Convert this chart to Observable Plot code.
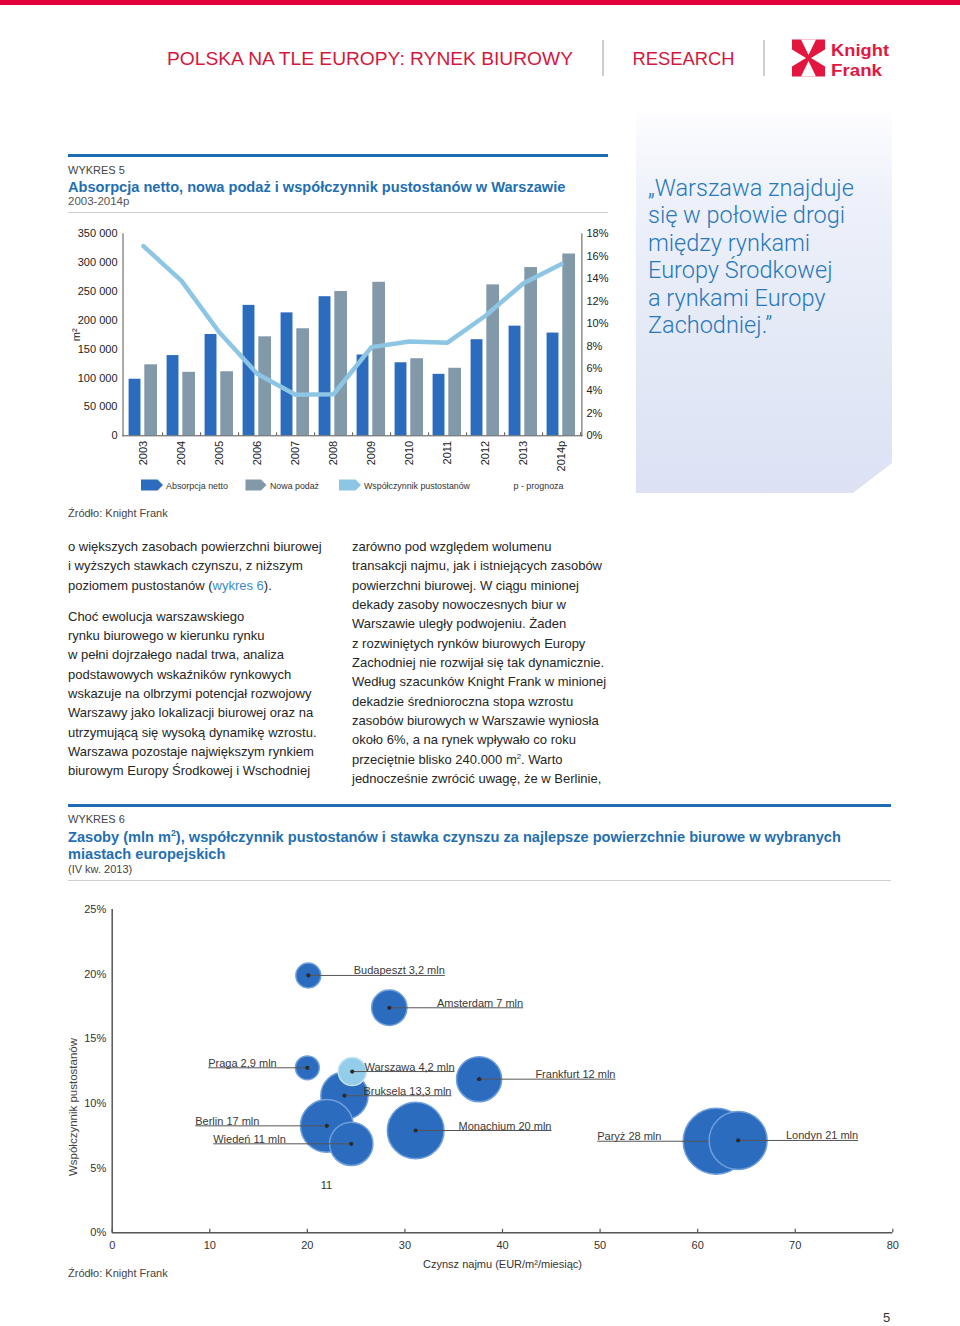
<!DOCTYPE html>
<html lang="pl">
<head>
<meta charset="utf-8">
<script src="https://cdn.jsdelivr.net/npm/d3@7"></script>
<script src="https://cdn.jsdelivr.net/npm/@observablehq/plot@0.6"></script>
<style>
html,body{margin:0;padding:0;background:#fff;}
#page{position:relative;width:960px;height:1326px;overflow:hidden;font-family:"Liberation Sans",Arial,Helvetica,sans-serif;color:#333;}
.abs{position:absolute;}
.t{position:absolute;white-space:nowrap;line-height:1.15;transform:translateY(-50%);}
.col{position:absolute;font-size:13px;line-height:19.35px;color:#262626;white-space:nowrap;}
.col p{margin:0;}
sup{font-size:0.6em;vertical-align:0.6em;line-height:0;}
.bluebar{position:absolute;height:3px;background:#1f6cb0;}
.hr{position:absolute;height:1px;background:#cfcfcf;}
.quote{position:absolute;left:636px;top:113px;width:256px;height:380px;
  background:linear-gradient(180deg,#fdfdff 0%,#eef1fa 22%,#e5eaf7 55%,#dce2f4 100%);
  clip-path:polygon(0 0,100% 0,100% 350px,217px 100%,0 100%);}
.qtext{position:absolute;left:648px;top:174.5px;font-family:Roboto,"Liberation Sans",sans-serif;font-weight:300;font-size:23.5px;line-height:27.5px;color:#2878bb;white-space:nowrap;}
.title{font-weight:bold;color:#1f6fb2;font-size:14.6px;}
.lbl{font-size:11px;color:#444;}
.chart{position:absolute;left:0;}
.chart svg{overflow:visible;}
</style>
</head>
<body>
<div id="page">
  <svg class="abs" style="left:0;top:0" width="960" height="100">
    <rect x="0" y="0" width="960" height="5" fill="#e2003b"/>
    <text x="167" y="64.5" font-size="17.5" fill="#d3173e" textLength="406" lengthAdjust="spacingAndGlyphs" font-family="Liberation Sans, Arial, sans-serif">POLSKA NA TLE EUROPY: RYNEK BIUROWY</text>
    <line x1="603" x2="603" y1="40" y2="76" stroke="#bdbdbd" stroke-width="1.5"/>
    <text x="632.5" y="64.5" font-size="17.5" fill="#d3173e" textLength="102" lengthAdjust="spacingAndGlyphs" font-family="Liberation Sans, Arial, sans-serif">RESEARCH</text>
    <line x1="764" x2="764" y1="40" y2="76" stroke="#bdbdbd" stroke-width="1.5"/>
    <g transform="translate(792,39.5)">
      <rect x="0" y="0" width="33" height="37" fill="#e2163f"/>
      <polygon points="9,0 24,0 16.5,15.5" fill="#fff"/>
      <polygon points="9,37 24,37 16.5,21.5" fill="#fff"/>
      <polygon points="0,10 0,27 14,18.5" fill="#fff"/>
      <polygon points="33,10 33,27 19,18.5" fill="#fff"/>
    </g>
    <text x="831" y="56" font-size="16.8" font-weight="bold" fill="#e2163f" textLength="58" lengthAdjust="spacingAndGlyphs" font-family="Liberation Sans, Arial, sans-serif">Knight</text>
    <text x="831" y="75.8" font-size="16.8" font-weight="bold" fill="#e2163f" textLength="51" lengthAdjust="spacingAndGlyphs" font-family="Liberation Sans, Arial, sans-serif">Frank</text>
  </svg>

  <div class="quote"></div>
  <div class="qtext">„Warszawa znajduje<br>się w połowie drogi<br>między rynkami<br>Europy Środkowej<br>a rynkami Europy<br>Zachodniej.”</div>

  <div class="bluebar" style="left:68px;top:154px;width:540px;"></div>
  <div class="t lbl" style="left:68px;top:170px;">WYKRES 5</div>
  <div class="t title" style="left:68px;top:186.5px;">Absorpcja netto, nowa podaż i współczynnik pustostanów w Warszawie</div>
  <div class="t" style="left:68px;top:202.3px;font-size:11.5px;color:#555;">2003-2014p</div>
  <div class="hr" style="left:68px;top:212px;width:540px;"></div>

  <div id="chart1" class="chart" style="top:215px;"></div>

  <svg class="abs" style="left:0;top:474px" width="620" height="24" font-family="Liberation Sans, Arial, sans-serif" font-size="9.5" fill="#333">
    <polygon points="141,5.5 157.5,5.5 163,11 157.5,16.5 141,16.5" fill="#2c6cbf"/>
    <text x="166" y="14.5" textLength="62" lengthAdjust="spacingAndGlyphs">Absorpcja netto</text>
    <polygon points="245.5,5.5 261,5.5 266.5,11 261,16.5 245.5,16.5" fill="#8299aa"/>
    <text x="270" y="14.5" textLength="49" lengthAdjust="spacingAndGlyphs">Nowa podaż</text>
    <polygon points="339,5.5 355.5,5.5 361,11 355.5,16.5 339,16.5" fill="#8dc6e4"/>
    <text x="364" y="14.5" textLength="106" lengthAdjust="spacingAndGlyphs">Współczynnik pustostanów</text>
    <text x="513.5" y="14.5" textLength="50" lengthAdjust="spacingAndGlyphs">p - prognoza</text>
  </svg>

  <div class="t lbl" style="left:68px;top:513px;">Źródło: Knight Frank</div>

  <div class="col" style="left:68px;top:537px;">
    <p>o większych zasobach powierzchni biurowej<br>i wyższych stawkach czynszu, z niższym<br>poziomem pustostanów (<span style="color:#3a8cc8">wykres 6</span>).</p>
    <p style="margin-top:11.6px">Choć ewolucja warszawskiego<br>rynku biurowego w kierunku rynku<br>w pełni dojrzałego nadal trwa, analiza<br>podstawowych wskaźników rynkowych<br>wskazuje na olbrzymi potencjał rozwojowy<br>Warszawy jako lokalizacji biurowej oraz na<br>utrzymującą się wysoką dynamikę wzrostu.<br>Warszawa pozostaje największym rynkiem<br>biurowym Europy Środkowej i Wschodniej</p>
  </div>
  <div class="col" style="left:352px;top:537px;">
    <p>zarówno pod względem wolumenu<br>transakcji najmu, jak i istniejących zasobów<br>powierzchni biurowej. W ciągu minionej<br>dekady zasoby nowoczesnych biur w<br>Warszawie uległy podwojeniu. Żaden<br>z rozwiniętych rynków biurowych Europy<br>Zachodniej nie rozwijał się tak dynamicznie.<br>Według szacunków Knight Frank w minionej<br>dekadzie średnioroczna stopa wzrostu<br>zasobów biurowych w Warszawie wyniosła<br>około 6%, a na rynek wpływało co roku<br>przeciętnie blisko 240.000 m<sup>2</sup>. Warto<br>jednocześnie zwrócić uwagę, że w Berlinie,</p>
  </div>

  <div class="bluebar" style="left:68px;top:804px;width:823px;"></div>
  <div class="t lbl" style="left:68px;top:819px;">WYKRES 6</div>
  <div class="t title" style="left:68px;top:836.7px;">Zasoby (mln m<sup>2</sup>), współczynnik pustostanów i stawka czynszu za najlepsze powierzchnie biurowe w wybranych</div>
  <div class="t title" style="left:68px;top:854.3px;">miastach europejskich</div>
  <div class="t lbl" style="left:68px;top:868.5px;">(IV kw. 2013)</div>
  <div class="hr" style="left:68px;top:880px;width:823px;"></div>

  <div id="chart2" class="chart" style="top:895px;"></div>
  <div class="abs lbl" style="left:72.5px;top:1107.3px;transform:translate(-50%,-50%) rotate(-90deg);white-space:nowrap;font-size:11.5px;">Współczynnik pustostanów</div>

  <div class="t lbl" style="left:68px;top:1273px;">Źródło: Knight Frank</div>
  <div class="t" style="left:883px;top:1318px;font-size:13px;color:#333;">5</div>
</div>

<script>
// ---------- WYKRES 5 data ----------
const years = ["2003","2004","2005","2006","2007","2008","2009","2010","2011","2012","2013","2014p"];
const absorpcjaNetto = [98000,139000,175500,226000,213000,241000,140000,126500,106500,166500,190000,178000];
const nowaPodaz = [123000,110000,111000,171500,185500,250000,266000,133500,117000,261500,291500,315000];
const pustostany = [16.9,13.8,9.2,5.5,3.65,3.7,7.9,8.4,8.3,10.7,13.6,15.3];
const leftTicks = [0,50000,100000,150000,200000,250000,300000,350000];
const rightTicks = [0,2,4,6,8,10,12,14,16,18];

// ---------- WYKRES 6 data ----------
const cities = ["Budapeszt","Amsterdam","Praga","Bruksela","Warszawa","Berlin","Wiedeń","Monachium","Frankfurt","Paryż","Londyn"];
const stock = [3.2,7,2.9,13.3,4.2,17,11,20,12,28,21];
const stockText = ["3,2","7","2,9","13,3","4,2","17","11","20","12","28","21"];
const rent = [20.1,28.4,20.0,23.8,24.6,22.0,24.5,31.1,37.6,61.9,64.15];
const vacancy = [19.9,17.4,12.76,10.6,12.47,8.27,6.88,7.91,11.88,7.08,7.14];
const labelAt = [34.09,42.12,9.84,34.77,35.08,8.51,10.35,45.02,51.58,49.71,76.45];
const xTicks2 = [0,10,20,30,40,50,60,70,80];
const yTicks2 = [0,5,10,15,20,25];
const strayNotes = [{x:21.96, y:3.66, t:"11"}];

const fontStyle = {fontFamily:"Liberation Sans, Arial, sans-serif", fontSize:"11px", color:"#333", background:"transparent", overflow:"visible"};

// ---------- Chart 1 ----------
const rows = years.map((y,i)=>({year:y, a:absorpcjaNetto[i], n:nowaPodaz[i], v:pustostany[i]}));
const k = 350000/18;
const W1 = 640, ML1 = 122.5, MR1 = 58.6;
const bw = (W1-ML1-MR1)/years.length;
const fmt = d => d3.format(",")(d).replace(/,/g," ");

const chart1 = Plot.plot({
  width: W1, height: 260,
  marginLeft: ML1, marginRight: MR1, marginTop: 18.3, marginBottom: 39.7,
  style: fontStyle,
  x: {domain: years, padding: 0, axis: null},
  y: {domain: [0,350000], axis: null},
  marks: [
    Plot.barY(rows, {x:"year", y:"a", fill:"#2c6cbf", insetLeft: bw*0.12, insetRight: bw*0.563}),
    Plot.barY(rows, {x:"year", y:"n", fill:"#8299aa", insetLeft: bw*0.531, insetRight: bw*0.131}),
    Plot.line(rows, {x:"year", y: d => d.v*k, stroke:"#8dc6e4", strokeWidth:4.5, strokeLinejoin:"round", strokeLinecap:"round"}),
    Plot.frame({anchor:"left", stroke:"#555"}),
    Plot.frame({anchor:"right", stroke:"#555"}),
    Plot.frame({anchor:"bottom", stroke:"#555"}),
    Plot.ruleX(years, {x: d => d, y1: 0, y2: 0, insetTop: -3, dx: bw/2, stroke:"#555"}),
    Plot.axisY({ticks: leftTicks, tickSize: 0, tickPadding: 5.5, tickFormat: fmt, label: "m²", labelAnchor: "center", labelOffset: 51, labelArrow: "none", fill:"#222"}),
    Plot.axisY({anchor:"right", ticks: rightTicks.map(p => p*k), tickSize: 0, tickPadding: 4.6, tickFormat: d => Math.round(d/k) + "%", label: null, fill:"#222"}),
    Plot.axisX({tickRotate: -90, tickSize: 0, tickPadding: 5, label: null, fill:"#222"})
  ]
});
document.getElementById("chart1").appendChild(chart1);

// ---------- Chart 2 ----------
const pts = cities.map((c,i)=>({city:c, stock:stock[i], rent:rent[i], vac:vacancy[i], lab:labelAt[i], txt:`${c} ${stockText[i]} mln`}));
const front = pts.filter(d => d.city === "Londyn");
const back = pts.filter(d => d.city !== "Londyn");
const fillOf = d => d.city === "Warszawa" ? "#93cdea" : "#2c6cbf";
const strokeOf = d => d.city === "Warszawa" ? "#c4e4f4" : "#6f9fdb";
const annot = (data) => [
  Plot.link(data, {x1:"rent", y1:"vac", x2:"lab", y2:"vac", stroke:"#555", strokeWidth:1}),
  Plot.dot(data, {x:"rent", y:"vac", r:2.1, fill:"#2a2a2a", sort:null}),
  Plot.text(data.filter(d => d.lab > d.rent), {x:"lab", y:"vac", text:"txt", textAnchor:"end", lineAnchor:"bottom", dy:-1, fill:"#3a3a3a", fontSize:11}),
  Plot.text(data.filter(d => d.lab <= d.rent), {x:"lab", y:"vac", text:"txt", textAnchor:"start", lineAnchor:"bottom", dy:-1, fill:"#3a3a3a", fontSize:11})
];

const chart2 = Plot.plot({
  width: 960, height: 375,
  marginLeft: 111.7, marginRight: 67.7, marginTop: 14, marginBottom: 37.7,
  style: fontStyle,
  x: {domain:[0,80], axis:null},
  y: {domain:[0,25], axis:null},
  r: {type:"pow", exponent:0.45, domain:[0,28], range:[0,33]},
  marks: [
    Plot.ruleX([0], {stroke:"#555", strokeWidth:1.5}),
    Plot.ruleY([0], {stroke:"#555", strokeWidth:1.5}),
    Plot.ruleX(xTicks2, {x: d => d, y1: 0, y2: 0, insetTop: -3.5, stroke:"#555", strokeWidth:1.2}),
    Plot.axisY({ticks: yTicks2, tickSize: 0, tickPadding: 6, tickFormat: d => d + "%", label: null, fill:"#333"}),
    Plot.axisX({ticks: xTicks2, tickSize: 0, tickPadding: 8, tickFormat: d => String(d), label: "Czynsz najmu (EUR/m²/miesiąc)", labelAnchor: "center", labelOffset: 35, labelArrow: "none", fill:"#333"}),
    Plot.dot(back, {x:"rent", y:"vac", r:"stock", fill: fillOf, stroke: strokeOf, strokeWidth:1.5, sort:null}),
    ...annot(back),
    Plot.dot(front, {x:"rent", y:"vac", r:"stock", fill: fillOf, stroke: strokeOf, strokeWidth:1.5, sort:null}),
    ...annot(front),
    Plot.text(strayNotes, {x:"x", y:"y", text:"t", fill:"#333", fontSize:11})
  ]
});
document.getElementById("chart2").appendChild(chart2);
</script>
</body>
</html>
